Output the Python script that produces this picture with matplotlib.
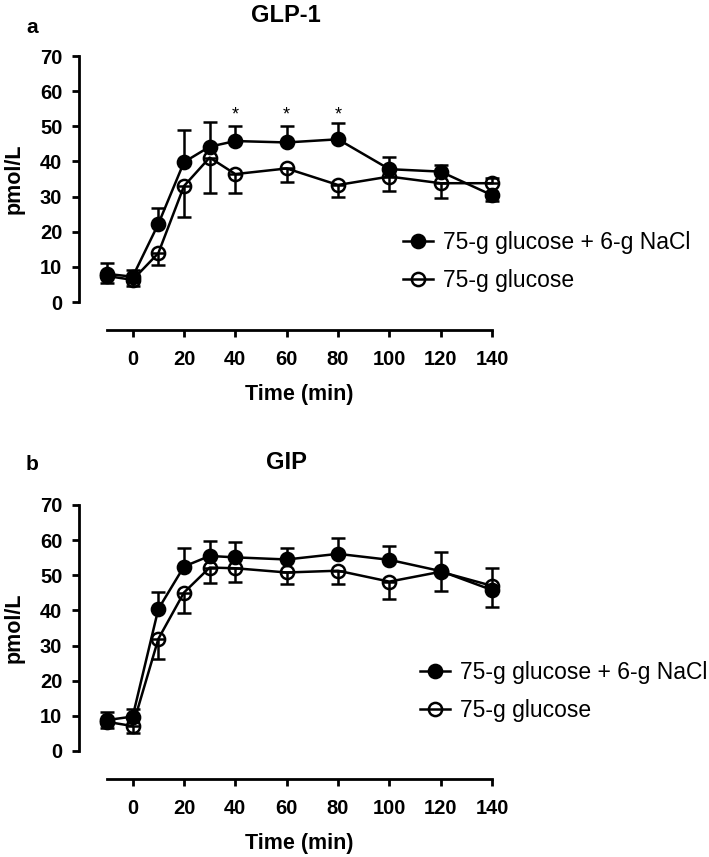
import matplotlib
matplotlib.use("Agg")
import matplotlib.pyplot as plt
from matplotlib.lines import Line2D

plt.rcParams['font.family'] = ['Liberation Sans', 'DejaVu Sans']

# sampling times (min)
time = [-10, 0, 10, 20, 30, 40, 60, 80, 100, 120, 140]
xticks = [0, 20, 40, 60, 80, 100, 120, 140]
yticks = [0, 10, 20, 30, 40, 50, 60, 70]
labels = ['75-g glucose + 6-g NaCl', '75-g glucose']

# GLP-1 (pmol/L)
glp1_nacl = [8.0, 7.2, 22.2, 39.8, 44.2, 45.8, 45.4, 46.3, 37.8, 37.1, 30.4]
glp1_nacl_lo = [0, 0, 0, 0, 0, 0, 0, 0, 0, 0, 1.7]
glp1_nacl_hi = [3.0, 2.0, 4.5, 9.2, 7.1, 4.3, 4.7, 4.7, 3.4, 1.9, 0]
glp1_glu = [7.4, 6.3, 13.9, 33.0, 41.1, 36.4, 38.0, 33.3, 35.7, 33.8, 33.8]
glp1_glu_lo = [2.0, 1.7, 3.4, 8.9, 10.0, 5.3, 3.8, 3.3, 4.0, 4.3, 0]
glp1_glu_hi = [0, 0, 0, 0, 0, 0, 0, 0, 0, 0, 1.5]
glp1_stars = [40, 60, 80]

# GIP (pmol/L)
gip_nacl = [8.8, 9.8, 40.4, 52.5, 55.5, 55.1, 54.5, 56.1, 54.4, 51.2, 45.8]
gip_nacl_lo = [0, 0, 0, 0, 0, 0, 0, 0, 0, 0, 4.7]
gip_nacl_hi = [2.2, 2.2, 4.9, 5.2, 4.3, 4.3, 3.4, 4.4, 4.0, 5.5, 0]
gip_glu = [8.3, 7.1, 31.9, 45.1, 52.2, 52.0, 50.8, 51.3, 48.2, 51.0, 47.0]
gip_glu_lo = [1.8, 2.0, 5.8, 5.7, 4.3, 4.0, 3.4, 3.9, 5.0, 5.4, 0]
gip_glu_hi = [0, 0, 0, 0, 0, 0, 0, 0, 0, 0, 5.0]

W, H = 709, 857
fig = plt.figure(figsize=(W / 100, H / 100), dpi=100)

lw = 1.8
ms = 9.5


def panel(bottom_px, title, title_y, letter, letter_y, nacl, nacl_lo, nacl_hi,
          glu, glu_lo, glu_hi, stars, leg_xy):
    ax = fig.add_axes([107 / W, 1 - bottom_px / H, 385 / W, 246 / H])
    ax.errorbar(time, nacl, yerr=[nacl_lo, nacl_hi], color='black', marker='o', markersize=ms,
                markeredgewidth=lw, linewidth=lw, elinewidth=lw, capsize=4.8, capthick=lw,
                clip_on=False, zorder=3)
    ax.errorbar(time, glu, yerr=[glu_lo, glu_hi], color='black', marker='o', markersize=ms,
                markerfacecolor='none', markeredgewidth=lw,
                linewidth=lw, elinewidth=lw, capsize=4.8, capthick=lw, clip_on=False, zorder=4)
    for s in stars:
        ax.text(s, 53.2, '*', ha='center', va='center', fontsize=13)
    ax.set_xlim(-10, 140)
    ax.set_ylim(0, 70)
    ax.set_xticks(xticks)
    ax.set_yticks(yticks)
    for side in ['top', 'right']:
        ax.spines[side].set_visible(False)
    for side in ['left', 'bottom']:
        ax.spines[side].set_position(('outward', 20))
        ax.spines[side].set_linewidth(2.0)
    ax.tick_params(width=2.0, length=4.7, labelsize=14.5)
    ax.tick_params(axis='y', pad=7.5)
    ax.tick_params(axis='x', pad=10)
    for lab in ax.get_xticklabels() + ax.get_yticklabels():
        lab.set_fontweight('bold')
    ax.set_ylabel('pmol/L', fontsize=15.5, fontweight='bold', labelpad=11)
    ax.set_xlabel('Time (min)', fontsize=15.5, fontweight='bold', labelpad=11)
    fig.text(286 / W, 1 - title_y / H, title, ha='center', va='center',
             fontsize=17, fontweight='bold')
    fig.text(26 / W, 1 - letter_y / H, letter, ha='left', va='baseline',
             fontsize=15, fontweight='bold')
    handles = [
        Line2D([], [], color='black', marker='o', markersize=ms, markeredgewidth=lw, linewidth=lw),
        Line2D([], [], color='black', marker='o', markersize=ms, markerfacecolor='none',
               markeredgewidth=lw, linewidth=lw),
    ]
    fig.legend(handles, labels, loc='center left', bbox_to_anchor=(leg_xy[0] / W, 1 - leg_xy[1] / H),
               frameon=False, fontsize=16.5, handlelength=1.3, handletextpad=0.45,
               labelspacing=0.62, borderpad=0, borderaxespad=0)
    return ax


panel(302, 'GLP-1', 15.5, 'a', 33, glp1_nacl, glp1_nacl_lo, glp1_nacl_hi,
      glp1_glu, glp1_glu_lo, glp1_glu_hi, glp1_stars, (403, 261.5))
panel(751, 'GIP', 463, 'b', 470, gip_nacl, gip_nacl_lo, gip_nacl_hi,
      gip_glu, gip_glu_lo, gip_glu_hi, [], (420, 691.5))

fig.savefig('out.png', dpi=100)
